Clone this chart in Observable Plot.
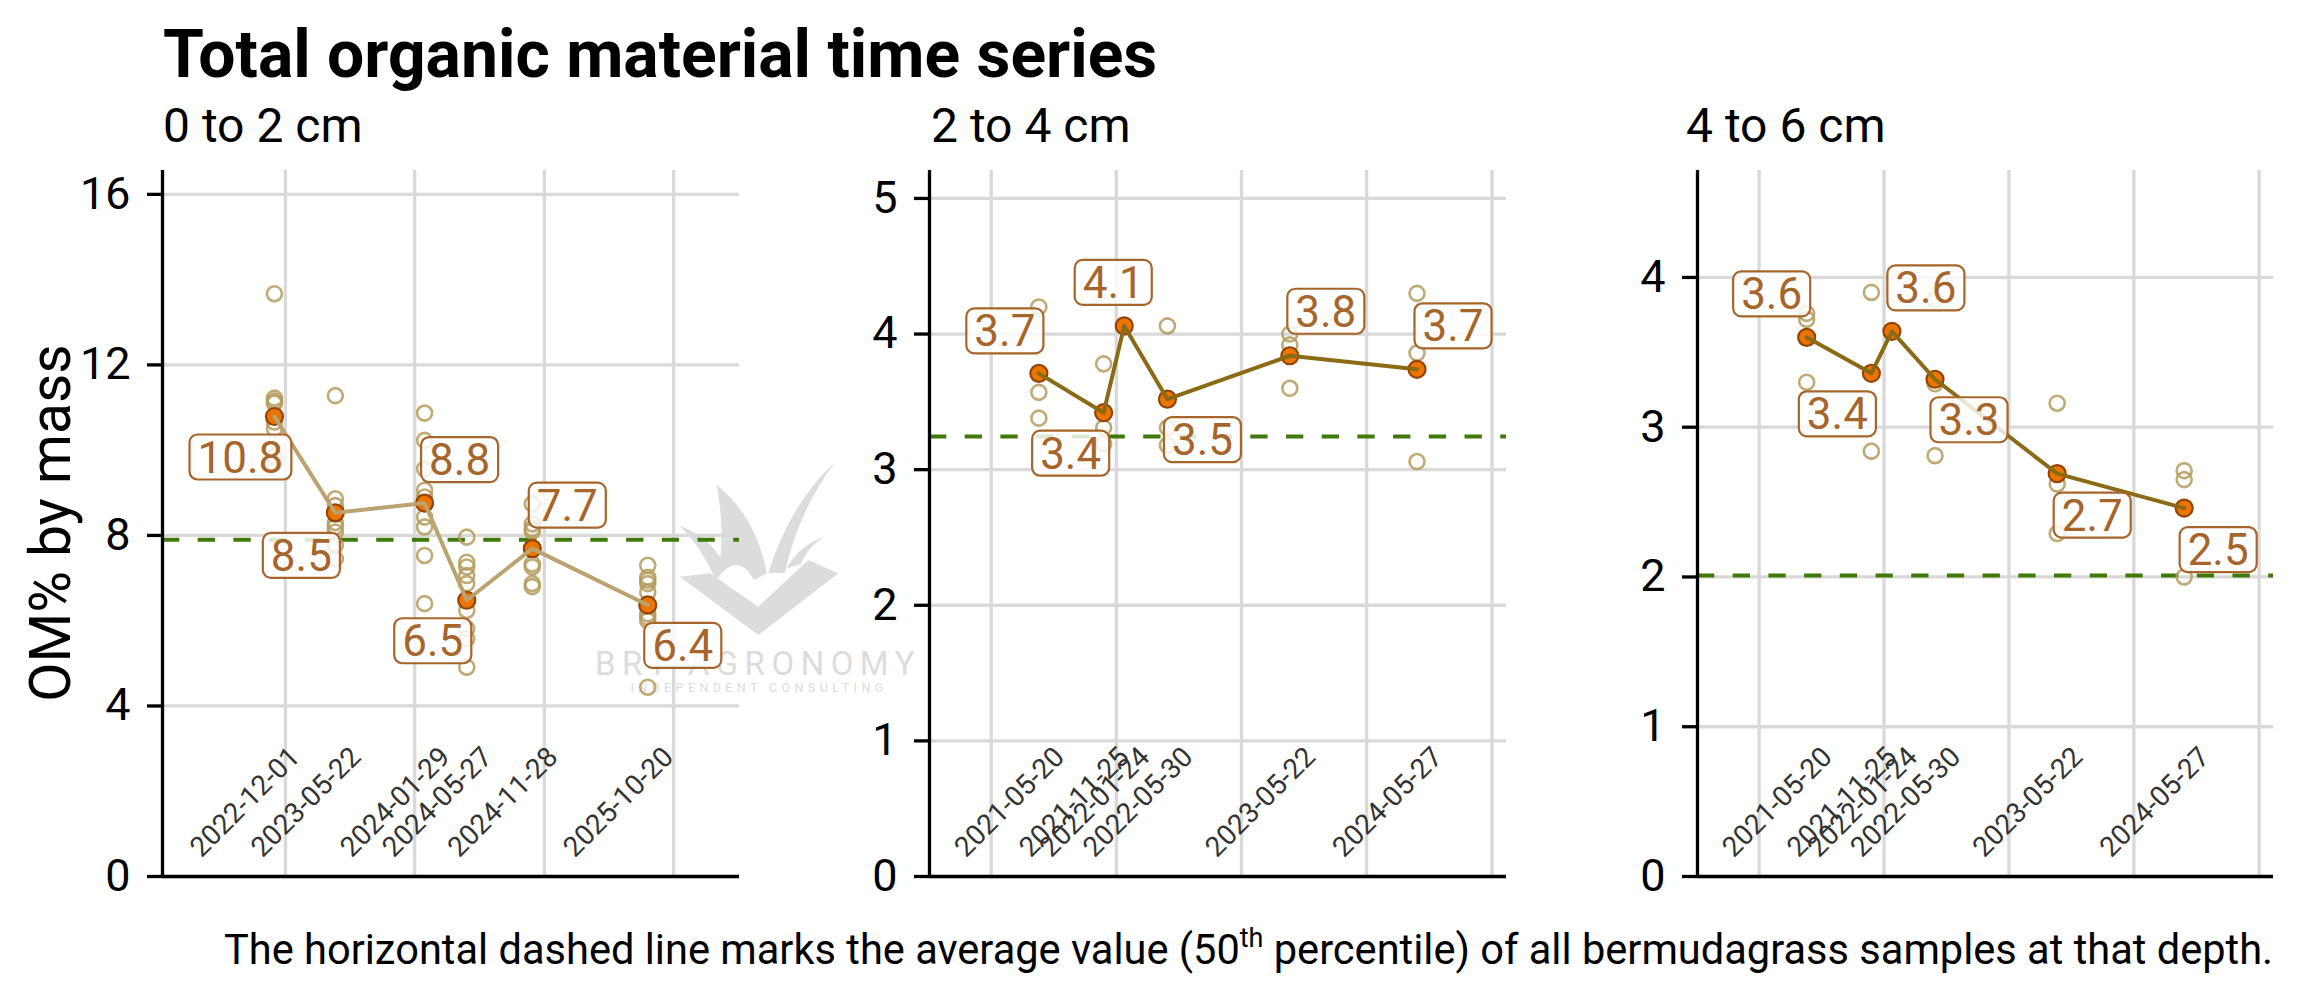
<!DOCTYPE html>
<html><head><meta charset="utf-8">
<script src="https://cdn.jsdelivr.net/npm/d3@7"></script>
<script src="https://cdn.jsdelivr.net/npm/@observablehq/plot@0.6"></script>
<style>
html,body{margin:0;padding:0;background:#fff;}
#page{position:relative;width:2303px;height:1001px;overflow:hidden;font-family:Roboto,sans-serif;background:#fff;}
#page svg{position:absolute;}
</style></head><body><div id="page"></div>
<script>
// ---------------- data ----------------
const chartTitle = "Total organic material time series";
const panelTitles = ["0 to 2 cm", "2 to 4 cm", "4 to 6 cm"];
const yAxisTitle = "OM% by mass";
const captionMain = "The horizontal dashed line marks the average value (50";
const captionSup = "th";
const captionEnd = " percentile) of all bermudagrass samples at that depth.";

const dates1 = ["2022-12-01", "2023-05-22", "2024-01-29", "2024-05-27", "2024-11-28", "2025-10-20"];
const means1 = [10.79, 8.53, 8.76, 6.48, 7.69, 6.37];
const labels1 = ["10.8", "8.5", "8.8", "6.5", "7.7", "6.4"];
const samples1 = [
  [13.67, 11.22, 11.15, 11.10, 10.66, 10.50, 9.85, 9.70],
  [11.28, 8.86, 8.70, 8.30, 8.20, 8.08, 7.77, 7.45],
  [10.87, 10.23, 9.56, 9.06, 8.90, 8.43, 8.20, 7.53, 6.40],
  [7.96, 7.37, 7.26, 7.06, 6.87, 6.24, 5.81, 5.58, 4.91],
  [8.74, 8.27, 8.16, 8.10, 7.33, 7.26, 6.87, 6.80],
  [7.30, 7.02, 6.95, 6.87, 6.67, 6.16, 6.08, 6.00, 4.44]
];

const dates2 = ["2021-05-20", "2021-11-25", "2022-01-24", "2022-05-30", "2023-05-22", "2024-05-27"];
const means2 = [3.71, 3.42, 4.06, 3.52, 3.84, 3.74];
const labels2 = ["3.7", "3.4", "4.1", "3.5", "3.8", "3.7"];
const samples2 = [
  [4.20, 3.57, 3.38],
  [3.78, 3.31, 3.19],
  [4.06],
  [4.06, 3.31, 3.18],
  [4.00, 3.92, 3.60],
  [4.30, 3.86, 3.06]
];

const dates3 = ["2021-05-20", "2021-11-25", "2022-01-24", "2022-05-30", "2023-05-22", "2024-05-27"];
const means3 = [3.60, 3.36, 3.64, 3.32, 2.69, 2.46];
const labels3 = ["3.6", "3.4", "3.6", "3.3", "2.7", "2.5"];
const samples3 = [
  [3.76, 3.72, 3.30],
  [3.90, 2.84],
  [3.64],
  [3.85, 3.29, 2.81],
  [3.16, 2.62, 2.29],
  [2.71, 2.65, 2.00]
];

const medians = [7.90, 3.245, 2.01];
const yMax = [16.56, 5.206, 4.714];
const yTicks = [[0, 4, 8, 12, 16], [0, 1, 2, 3, 4, 5], [0, 1, 2, 3, 4]];
const xLimits = [["2022-01-19", "2026-07-06"], ["2020-07-05", "2025-02-12"], ["2020-07-05", "2025-02-12"]];
const gridDates = [
  ["2023-01-01", "2024-01-01", "2025-01-01", "2026-01-01"],
  ["2021-01-01", "2022-01-01", "2023-01-01", "2024-01-01", "2025-01-01"],
  ["2021-01-01", "2022-01-01", "2023-01-01", "2024-01-01", "2025-01-01"]
];

// ---------------- layout / style (not data) ----------------
const labelNudge = [
  [[-34, 42], [-34, 44], [35, -42], [-34, 42], [35, -42], [35, 42]],
  [[-34, -41], [-33, 42], [-11, -42], [35, 42], [36, -43], [36, -42]],
  [[-35, -42], [-34, 42], [34, -42], [34, 42], [35, 43], [34, 43]]
];
const panelBox = [
  {left: 0, width: 760, ml: 162, mr: 21},
  {left: 760, width: 770, ml: 169, mr: 24},
  {left: 1530, width: 773, ml: 167, mr: 30}
];
const lineColors = ["#baa36e", "#8a6a14", "#8a6a14"];
const labelColor = "#a8652b";
const svgNS = "http://www.w3.org/2000/svg";
const page = document.getElementById("page");
const parse = d3.utcParse("%Y-%m-%d");

function el(tag, attrs, parent, text) {
  const e = document.createElementNS(svgNS, tag);
  for (const k in attrs) e.setAttribute(k, attrs[k]);
  if (text != null) e.textContent = text;
  if (parent) parent.appendChild(e);
  return e;
}

// ---------------- background watermark ----------------
const bg = el("svg", {width: 2303, height: 1001, style: "left:0;top:0"}, page);
const wm = el("g", {fill: "#dcdcdc", transform: "translate(600,440) scale(0.3333)"}, bg);
el("path", {d: "M350,135 Q470,230 500,400 L462,420 Q410,330 352,418 Q378,280 350,135 Z"}, wm);
el("path", {d: "M705,65 Q565,200 505,400 L555,398 Q590,225 705,65 Z"}, wm);
el("path", {d: "M672,290 Q595,318 560,385 L602,372 Q622,322 672,290 Z"}, wm);
el("path", {d: "M240,258 Q330,290 372,372 L348,420 Q305,322 240,258 Z"}, wm);
el("path", {d: "M240,410 L475,585 L715,400 L625,360 L475,500 L330,400 Z"}, wm);
el("text", {x: 758, y: 675, "text-anchor": "middle", "font-family": "Roboto", "font-size": 33, fill: "#dcdcdc", "letter-spacing": 6.5}, bg, "BRT AGRONOMY");
el("text", {x: 759, y: 692, "text-anchor": "middle", "font-family": "Roboto", "font-size": 12.5, fill: "#dcdcdc", "letter-spacing": 4.4}, bg, "INDEPENDENT CONSULTING");

// ---------------- panels ----------------
const panels = [
  {dates: dates1, means: means1, labels: labels1, samples: samples1},
  {dates: dates2, means: means2, labels: labels2, samples: samples2},
  {dates: dates3, means: means3, labels: labels3, samples: samples3}
];

panels.forEach((p, k) => {
  const meanRows = p.dates.map((d, i) => ({date: parse(d), value: p.means[i], label: p.labels[i], ds: d}));
  const sampleRows = p.samples.flatMap((vals, i) => vals.map(v => ({date: parse(p.dates[i]), value: v})));
  const xDom = xLimits[k].map(parse);
  const box = panelBox[k];
  const labelMarks = meanRows.map((d, i) => Plot.text([d], {
    x: "date", y: "value", text: "label",
    dx: labelNudge[k][i][0], dy: labelNudge[k][i][1],
    fontSize: 44, fill: labelColor, textAnchor: "middle", lineAnchor: "middle",
    ariaDescription: "vlabel"
  }));
  const svg = Plot.plot({
    width: box.width, height: 750,
    marginLeft: box.ml, marginRight: box.mr, marginTop: 20, marginBottom: 24,
    style: {background: "transparent", fontFamily: "Roboto", fontSize: "45px", overflow: "visible"},
    x: {type: "utc", domain: xDom, axis: null},
    y: {domain: [0, yMax[k]]},
    marks: [
      Plot.gridY(yTicks[k], {stroke: "#d9d9d9", strokeOpacity: 1, strokeWidth: 3.3}),
      Plot.gridX(gridDates[k].map(parse), {stroke: "#d9d9d9", strokeOpacity: 1, strokeWidth: 3.3}),
      Plot.ruleY([medians[k]], {stroke: "#3f7a08", strokeWidth: 4, strokeDasharray: "17.3,18.4"}),
      Plot.text(meanRows, {x: "date", text: "ds", frameAnchor: "bottom", rotate: -45, textAnchor: "end",
        lineAnchor: "bottom", dx: 27, dy: -118, fontSize: 28, fill: "#333333"}),
      Plot.dot(sampleRows, {x: "date", y: "value", r: 7.5, stroke: "#b59b5d", strokeOpacity: 0.85, strokeWidth: 2.6, fill: "none"}),
      Plot.dot(meanRows, {x: "date", y: "value", r: 8.5, fill: "#ec7400", stroke: "#934406", strokeWidth: 2.2}),
      Plot.line(meanRows, {x: "date", y: "value", stroke: lineColors[k], strokeWidth: 4}),
      ...labelMarks,
      Plot.ruleX([xDom[0]], {stroke: "black", strokeWidth: 3.3}),
      Plot.ruleY([0], {stroke: "black", strokeWidth: 3.3}),
      Plot.axisY(yTicks[k], {tickSize: 15, tickPadding: 17, strokeWidth: 3.3, fontSize: 45, label: null, tickFormat: d => String(d)})
    ]
  });
  svg.style.left = box.left + "px";
  svg.style.top = "150px";
  page.appendChild(svg);
  // rounded label boxes behind value labels
  const labelTexts = Array.from(svg.querySelectorAll("text")).filter(t => {
    const g = t.parentNode;
    return g && (g.getAttribute("aria-description") === "vlabel" || g.getAttribute("fill") === labelColor);
  });
  labelTexts.forEach(t => {
    const w = t.getComputedTextLength();
    const padX = 8;
    const r = el("rect", {
      x: -w / 2 - padX, y: -24, width: w + 2 * padX, height: 45, rx: 8, ry: 8,
      fill: "white", "fill-opacity": 0.82, stroke: labelColor, "stroke-width": 2.2,
      transform: t.getAttribute("transform") || ""
    });
    t.parentNode.insertBefore(r, t);
  });
});

// ---------------- titles / caption ----------------
const fg = el("svg", {width: 2303, height: 1001, style: "left:0;top:0;pointer-events:none"}, page);
el("text", {x: 163, y: 77, "font-family": "Roboto", "font-weight": 700, "font-size": 66, fill: "#000"}, fg, chartTitle);
const subX = [163, 931, 1686];
panelTitles.forEach((t, i) => el("text", {x: subX[i], y: 142, "font-family": "Roboto", "font-size": 48, fill: "#000"}, fg, t));
el("text", {transform: "translate(70,523) rotate(-90)", "text-anchor": "middle", "font-family": "Roboto", "font-size": 57, fill: "#000"}, fg, yAxisTitle);
// caption: sized to span the same width as in the reference
const capBase = 34;
const cap = el("text", {x: 2273, y: 964, "text-anchor": "end", "font-family": "Roboto", "font-size": capBase, fill: "#000"}, fg);
el("tspan", {}, cap, captionMain);
const sup = el("tspan", {dy: -14, "font-size": 22}, cap, captionSup);
const after = el("tspan", {dy: 14}, cap, captionEnd);
const capLen = cap.getComputedTextLength();
if (capLen > 0) {
  const s = 2050 / capLen;
  cap.setAttribute("font-size", capBase * s);
  sup.setAttribute("font-size", 22 * s);
  sup.setAttribute("dy", -14 * s);
  after.setAttribute("dy", 14 * s);
}
</script></body></html>
